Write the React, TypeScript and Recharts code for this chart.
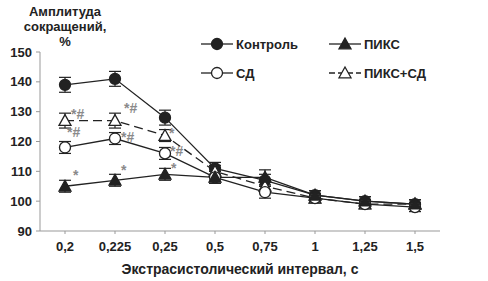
import React from "react";
import { LineChart, Line, XAxis, YAxis, ErrorBar, LabelList } from "recharts";

// интервалы (категории оси X)
const categories = ["0,2", "0,225", "0,25", "0,5", "0,75", "1", "1,25", "1,5"];

// средние значения амплитуды, %
const control = [139, 141, 128, 111, 107, 102, 100, 99];
const sd = [118, 121, 116, 108, 103, 101, 99, 98];
const piks = [105, 107, 109, 108, 108, 102, 100, 99];
const piksSd = [127, 127, 122, 110, 105, 101, 99, 99];

// ошибки среднего
const controlErr = [2.5, 2.5, 2.5, 2, 2, 1.5, 1.5, 1.5];
const sdErr = [2, 2, 2, 2, 2, 1.5, 1.5, 1.5];
const piksErr = [2, 2, 2, 2, 2.5, 1.5, 1.5, 1.5];
const piksSdErr = [2.5, 2.5, 2, 2, 2, 1.5, 1.5, 1.5];

// метки достоверности
const sdMarks = ["*#", "*#", "*#", "", "", "", "", ""];
const piksMarks = ["*", "*", "*", "", "", "", "", ""];
const piksSdMarks = ["*#", "*#", "*", "", "", "", "", ""];

const yTicks = [90, 100, 110, 120, 130, 140, 150];

const chartData = categories.map((c, i) => ({
  cat: c,
  control: control[i],
  controlErr: controlErr[i],
  sd: sd[i],
  sdErr: sdErr[i],
  sdMark: sdMarks[i],
  piks: piks[i],
  piksErr: piksErr[i],
  piksMark: piksMarks[i],
  piksSd: piksSd[i],
  piksSdErr: piksSdErr[i],
  piksSdMark: piksSdMarks[i],
}));

const INK = "#222";
const FONT = "'Liberation Sans', Arial, sans-serif";

type Marker = "circle" | "circleOpen" | "tri" | "triOpen";

function markerShape(kind: Marker, cx: number, cy: number, key?: any) {
  if (kind === "circle" || kind === "circleOpen") {
    return (
      <circle
        key={key}
        cx={cx}
        cy={cy}
        r={5.5}
        fill={kind === "circle" ? INK : "#fff"}
        stroke={INK}
        strokeWidth={1.3}
      />
    );
  }
  const s = 6;
  const pts = `${cx},${cy - s} ${cx - s},${cy + s * 0.8} ${cx + s},${cy + s * 0.8}`;
  return (
    <polygon
      key={key}
      points={pts}
      fill={kind === "tri" ? INK : "#fff"}
      stroke={INK}
      strokeWidth={1.3}
    />
  );
}

const makeDot = (kind: Marker) => (props: any) =>
  markerShape(kind, props.cx, props.cy, `${kind}-${props.index}`);

// метки * и # рядом с точками
const makeMark = (dx: number[], dy: number[]) => (props: any) => {
  const { x, y, value, index } = props;
  if (!value) return null;
  return (
    <text
      key={`m-${index}`}
      x={Number(x) + dx[index]}
      y={Number(y) + dy[index]}
      fill="#8a8a8a"
      fontSize={14}
      fontFamily={FONT}
      fontWeight="bold"
    >
      {value}
    </text>
  );
};

const legendItems: { name: string; kind: Marker; dash?: string }[] = [
  { name: "Контроль", kind: "circle" },
  { name: "ПИКС", kind: "tri" },
  { name: "СД", kind: "circleOpen" },
  { name: "ПИКС+СД", kind: "triOpen", dash: "6 3" },
];

function LegendBox() {
  return (
    <div
      style={{
        position: "absolute",
        left: 201,
        top: 36,
        display: "grid",
        gridTemplateColumns: "128px 140px",
        rowGap: 13,
        fontFamily: FONT,
        fontWeight: "bold",
        fontSize: 13,
        color: INK,
      }}
    >
      {legendItems.map((it) => (
        <div key={it.name} style={{ display: "flex", alignItems: "center", height: 16 }}>
          <svg width={32} height={16} style={{ marginRight: 3 }}>
            <line x1={0} y1={8} x2={32} y2={8} stroke={INK} strokeWidth={1.3} strokeDasharray={it.dash} />
            {markerShape(it.kind, 16, 8)}
          </svg>
          <span>{it.name}</span>
        </div>
      ))}
    </div>
  );
}

const textStyle: React.CSSProperties = {
  position: "absolute",
  fontFamily: FONT,
  fontWeight: "bold",
  color: INK,
  textAlign: "center",
};

export default function App() {
  return (
    <div style={{ position: "relative", width: 488, height: 281, background: "#fff" }}>
      <style>{`body{margin:0}`}</style>
      <LineChart
        width={488}
        height={281}
        data={chartData}
        margin={{ top: 52, right: 48, bottom: 0, left: 0 }}
      >
        <XAxis
          dataKey="cat"
          stroke="#999"
          tickSize={3}
          padding={{ left: 25, right: 25 }}
          tick={{ fill: INK, fontSize: 13, fontWeight: "bold", fontFamily: FONT }}
          tickMargin={8}
          interval={0}
          height={50}
        />
        <YAxis
          width={40}
          domain={[90, 150]}
          ticks={yTicks}
          stroke="#999"
          tickSize={4}
          tickMargin={4}
          tick={{ fill: INK, fontSize: 13, fontWeight: "bold", fontFamily: FONT }}
        />
        <Line
          dataKey="control"
          stroke={INK}
          strokeWidth={1.3}
          dot={makeDot("circle")}
          isAnimationActive={false}
        >
          <ErrorBar dataKey="controlErr" width={6} stroke={INK} strokeWidth={1.2} direction="y" />
        </Line>
        <Line
          dataKey="piksSd"
          stroke={INK}
          strokeWidth={1.3}
          strokeDasharray="9 5"
          dot={makeDot("triOpen")}
          isAnimationActive={false}
        >
          <ErrorBar dataKey="piksSdErr" width={6} stroke={INK} strokeWidth={1.2} direction="y" />
          <LabelList dataKey="piksSdMark" content={makeMark([6, 9, 4], [-2, -8, 2])} />
        </Line>
        <Line
          dataKey="sd"
          stroke={INK}
          strokeWidth={1.3}
          dot={makeDot("circleOpen")}
          isAnimationActive={false}
        >
          <ErrorBar dataKey="sdErr" width={6} stroke={INK} strokeWidth={1.2} direction="y" />
          <LabelList dataKey="sdMark" content={makeMark([2, 6, 5], [-10, 3, 3])} />
        </Line>
        <Line
          dataKey="piks"
          stroke={INK}
          strokeWidth={1.3}
          dot={makeDot("tri")}
          isAnimationActive={false}
        >
          <ErrorBar dataKey="piksErr" width={6} stroke={INK} strokeWidth={1.2} direction="y" />
          <LabelList dataKey="piksMark" content={makeMark([8, 6, 6], [-6, -5, -1])} />
        </Line>
      </LineChart>
      <LegendBox />
      <div style={{ ...textStyle, left: 10, top: 4, width: 110, fontSize: 13, lineHeight: "15px" }}>
        Амплитуда
        <br />
        сокращений,
        <br />%
      </div>
      <div style={{ ...textStyle, left: 40, top: 261, width: 400, fontSize: 14 }}>
        Экстрасистолический интервал, с
      </div>
    </div>
  );
}
